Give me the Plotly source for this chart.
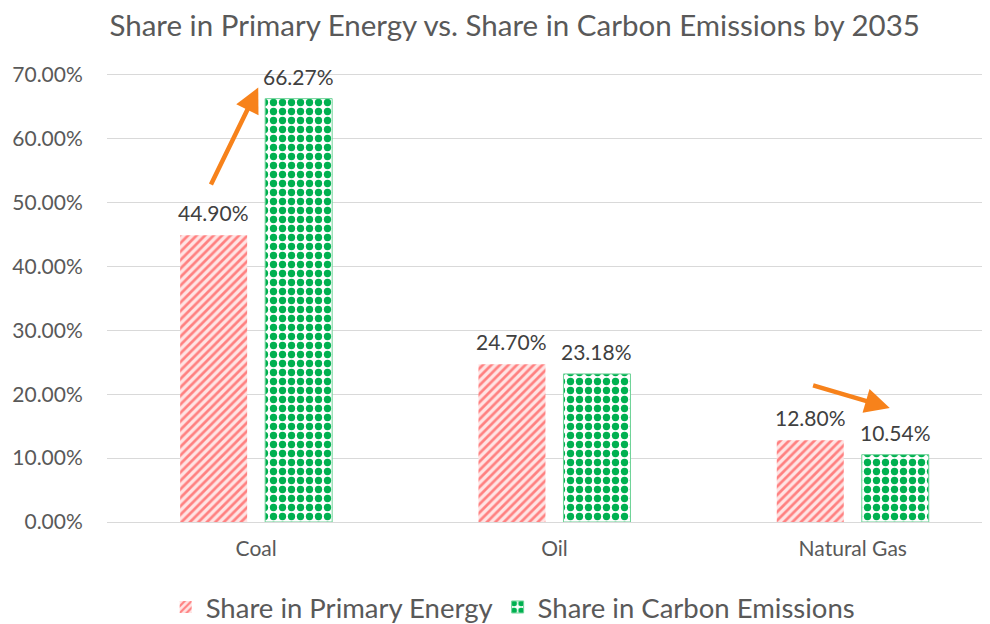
import plotly.graph_objects as go

categories = ["Coal", "Oil", "Natural Gas"]
primary_energy = [0.4490, 0.2470, 0.1280]
carbon_emissions = [0.6627, 0.2318, 0.1054]
series_names = ["Share in Primary Energy", "Share in Carbon Emissions"]
y_ticks = [0, 0.1, 0.2, 0.3, 0.4, 0.5, 0.6, 0.7]
title_text = "Share in Primary Energy vs. Share in Carbon Emissions by 2035"

FONT = "Lato"
TXT = "#595959"
LBL = "#404040"

fig = go.Figure()
fig.add_trace(go.Bar(
    x=categories, y=primary_energy, name=series_names[0],
    marker=dict(color="#ffe4e4",
                pattern=dict(shape="/", fgcolor="#ff8080", fgopacity=1,
                             size=6, solidity=0.45),
                line=dict(width=0)),
))
fig.add_trace(go.Bar(
    x=categories, y=carbon_emissions, name=series_names[1],
    marker=dict(color="#ffffff",
                pattern=dict(shape=".", fgcolor="#00b050", fgopacity=1,
                             size=9, solidity=0.52),
                line=dict(width=1, color="#6fd398")),
))

# data labels above each bar (offset to each bar of the group)
bar_offset_px = 42.5
for series, shift in ((primary_energy, -bar_offset_px), (carbon_emissions, bar_offset_px)):
    for cat, val in zip(categories, series):
        fig.add_annotation(x=cat, y=val, xref="x", yref="y", text=f"{val:.2%}",
                           showarrow=False, xshift=shift, yshift=8,
                           yanchor="bottom", xanchor="center",
                           font=dict(size=21, color=LBL, family=FONT))

# arrows (tail -> head), in data coordinates
arrows = [
    dict(x0=-0.154, y0=0.526, x1=0.007, y1=0.680),
    dict(x0=1.862, y0=0.2145, x1=2.124, y1=0.1785),
]
for a in arrows:
    fig.add_annotation(x=a["x1"], y=a["y1"], ax=a["x0"], ay=a["y0"],
                       xref="x", yref="y", axref="x", ayref="y",
                       showarrow=True, arrowhead=2, arrowsize=1.1,
                       arrowwidth=4.5, arrowcolor="#f7821b", text="")

fig.update_layout(
    width=982, height=616,
    margin=dict(l=99, r=0, t=54, b=102, autoexpand=False),
    paper_bgcolor="white", plot_bgcolor="white",
    font=dict(family=FONT, color=TXT),
    title=dict(text=title_text, x=0.516, xref="container", xanchor="center",
               y=0.971, yref="container", yanchor="middle",
               font=dict(size=29.5, color=TXT, family=FONT)),
    barmode="group", bargap=0.43, bargroupgap=0.212,
    showlegend=True,
    legend=dict(orientation="h", x=0.46, xanchor="center", y=-0.185, yanchor="middle",
                font=dict(size=27.5, color=TXT, family=FONT), itemwidth=30,
                traceorder="normal"),
    xaxis=dict(range=[-0.5, 2.46], showgrid=False, showline=True, linecolor="#d9d9d9",
               linewidth=1, ticks="outside", ticklen=8, tickcolor="rgba(0,0,0,0)",
               tickfont=dict(size=21, color=TXT)),
    yaxis=dict(range=[0, 0.72], tickvals=y_ticks, tickformat=".2%",
               showgrid=True, gridcolor="#d9d9d9", gridwidth=1,
               zeroline=True, zerolinecolor="#d9d9d9", zerolinewidth=1,
               showline=False, ticks="outside", ticklen=19, tickcolor="rgba(0,0,0,0)",
               tickfont=dict(size=21, color=TXT)),
)

fig.write_html("out.html")
